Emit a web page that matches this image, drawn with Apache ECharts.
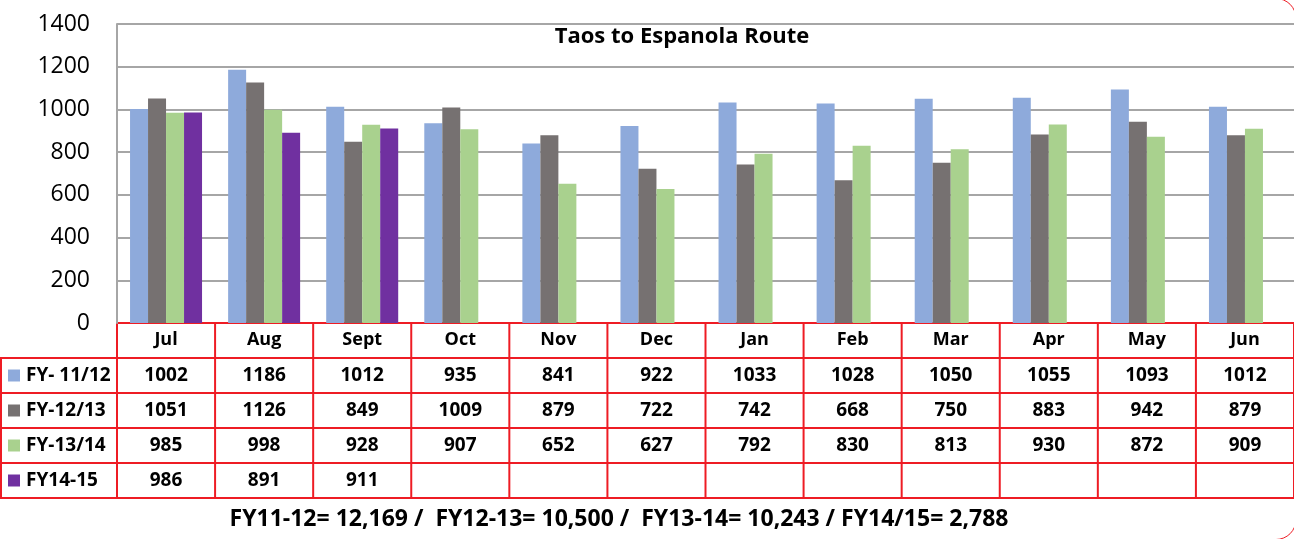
<!DOCTYPE html>
<html>
<head>
<meta charset="utf-8">
<script src="https://cdn.jsdelivr.net/npm/echarts@6/dist/echarts.min.js"></script>
<style>
    html, body { margin: 0; padding: 0; background: #fff; }
    #chart { width: 1294px; height: 539px; }
</style>
</head>
<body>
<div id="chart"></div>
<script>
    // data
    const months = ['Jul', 'Aug', 'Sept', 'Oct', 'Nov', 'Dec', 'Jan', 'Feb', 'Mar', 'Apr', 'May', 'Jun'];
    const seriesNames = ['FY- 11/12', 'FY-12/13', 'FY-13/14', 'FY14-15'];
    const fy1112 = [1002, 1186, 1012, 935, 841, 922, 1033, 1028, 1050, 1055, 1093, 1012];
    const fy1213 = [1051, 1126, 849, 1009, 879, 722, 742, 668, 750, 883, 942, 879];
    const fy1314 = [985, 998, 928, 907, 652, 627, 792, 830, 813, 930, 872, 909];
    const fy1415 = [986, 891, 911, null, null, null, null, null, null, null, null, null];
    const yTicks = [0, 200, 400, 600, 800, 1000, 1200, 1400];
    const chartTitle = 'Taos to Espanola Route';
    const totalsNote = 'FY11-12= 12,169 /  FY12-13= 10,500 /  FY13-14= 10,243 / FY14/15= 2,788';

    const colors = ['#8eaadb', '#767171', '#a9d18e', '#7030a0'];
    const allData = [fy1112, fy1213, fy1314, fy1415];
    const font = '"Open Sans", Lato, sans-serif';
    const red = '#ee1c24';

    let chartDom = document.getElementById('chart');
    let chart = echarts.init(chartDom, null, {renderer: 'canvas'});

    let options = {
        backgroundColor: '#fff',
        animation: false,
        textStyle: {fontFamily: font},
        title: {
            text: chartTitle,
            left: 677,
            top: 21,
            textAlign: 'center',
            textStyle: {
                fontFamily: font,
                fontSize: 22,
                fontWeight: 'bold',
                color: '#000'
            }
        },
        grid: {
            left: 117,
            top: 24,
            width: 1183,
            height: 299,
            containLabel: false
        },
        xAxis: {
            type: 'category',
            data: months,
            axisTick: {show: false},
            axisLine: {show: false},
            axisLabel: {
                margin: 17,
                verticalAlign: 'middle',
                fontFamily: font,
                fontSize: 18,
                fontWeight: 'bold',
                color: '#000'
            }
        },
        yAxis: {
            type: 'value',
            min: yTicks[0],
            max: yTicks[yTicks.length - 1],
            interval: yTicks[1] - yTicks[0],
            axisTick: {show: false},
            axisLine: {show: true, lineStyle: {color: '#a6a6a6', width: 2}},
            axisLabel: {
                margin: 27,
                fontFamily: font,
                fontSize: 23,
                color: '#000',
                formatter: v => String(v)
            },
            splitLine: {
                lineStyle: {color: '#a6a6a6', width: 2}
            }
        },
        series: seriesNames.map((name, i) => ({
            name: name,
            type: 'bar',
            data: allData[i],
            barWidth: 18,
            barGap: '0%',
            itemStyle: {color: colors[i]}
        }))
    };
    chart.setOption(options);

    // data table under the plot, laid out from the axis positions
    const xStart = chart.convertToPixel({xAxisIndex: 0}, 0);
    const band = chart.convertToPixel({xAxisIndex: 0}, 1) - xStart;
    const gridLeft = xStart - band / 2;
    const tableRight = gridLeft + band * months.length;
    const yBase = chart.convertToPixel({yAxisIndex: 0}, 0);
    const rowH = 35;
    const rows = seriesNames.length;

    let els = [];
    const lineStyle = {stroke: red, lineWidth: 2};
    // horizontal lines
    els.push({type: 'line', shape: {x1: gridLeft, y1: yBase, x2: tableRight, y2: yBase}, style: lineStyle});
    for (let k = 1; k <= rows + 1; k++) {
        let y = yBase + rowH * k;
        els.push({type: 'line', shape: {x1: 0, y1: y, x2: tableRight, y2: y}, style: lineStyle});
    }
    // vertical lines
    els.push({type: 'line', shape: {x1: 1, y1: yBase + rowH, x2: 1, y2: yBase + rowH * (rows + 1)}, style: lineStyle});
    for (let i = 0; i <= months.length; i++) {
        let x = gridLeft + band * i;
        els.push({type: 'line', shape: {x1: x, y1: yBase, x2: x, y2: yBase + rowH * (rows + 1)}, style: lineStyle});
    }
    // legend keys + values
    seriesNames.forEach((name, r) => {
        let cy = yBase + rowH * (r + 1) + rowH / 2;
        els.push({type: 'rect', shape: {x: 8, y: cy - 6, width: 12, height: 12}, style: {fill: colors[r]}});
        els.push({
            type: 'text', x: 26, y: cy,
            style: {text: name, font: 'bold 19px ' + font, fill: '#000', align: 'left', verticalAlign: 'middle'}
        });
        allData[r].forEach((v, i) => {
            if (v == null) return;
            els.push({
                type: 'text', x: chart.convertToPixel({xAxisIndex: 0}, i), y: cy,
                style: {text: String(v), font: 'bold 19px ' + font, fill: '#000', align: 'center', verticalAlign: 'middle'}
            });
        });
    });
    // totals line
    els.push({
        type: 'text', x: 619, y: 519,
        style: {text: totalsNote, font: 'bold 23px ' + font, fill: '#000', align: 'center', verticalAlign: 'middle'}
    });
    // rounded frame edge at the right
    els.push({
        type: 'rect', shape: {x: -30, y: -1.5, width: 1326, height: 541, r: 20},
        style: {fill: 'none', stroke: red, lineWidth: 1}
    });

    chart.setOption({graphic: {elements: els}});
</script>
</body>
</html>
